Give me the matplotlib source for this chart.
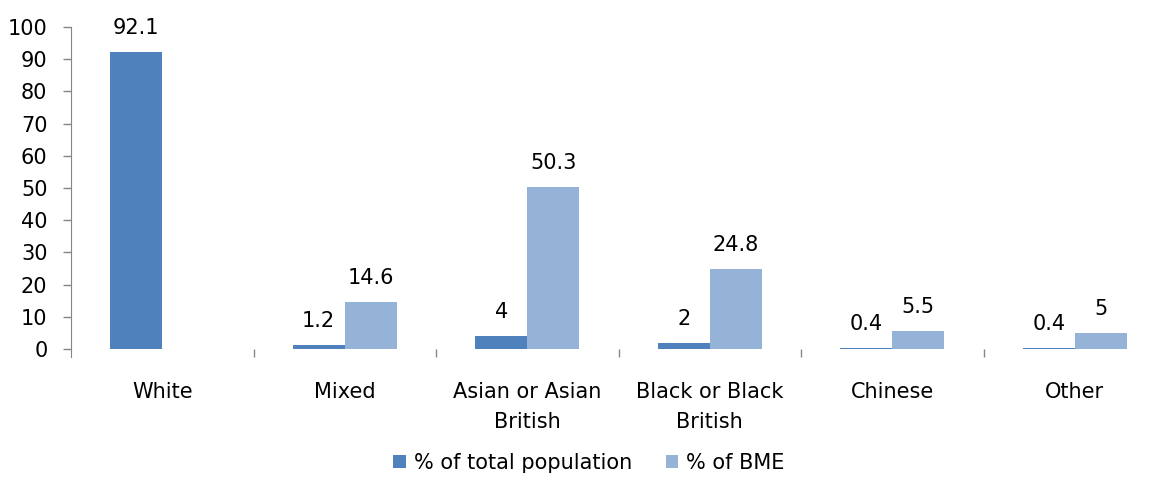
import numpy as np
import matplotlib
matplotlib.use("Agg")
import matplotlib.pyplot as plt
from matplotlib.ticker import FixedLocator

categories = ["White", "Mixed", "Asian or Asian\nBritish", "Black or Black\nBritish", "Chinese", "Other"]
pct_total = [92.1, 1.2, 4, 2, 0.4, 0.4]
pct_bme = [None, 14.6, 50.3, 24.8, 5.5, 5]
series_names = ["% of total population", "% of BME"]

dark = "#4F81BD"
light = "#95B3D7"
grey = "#868686"

plt.rcParams["font.family"] = "DejaVu Sans"
plt.rcParams["font.size"] = 15

fig = plt.figure(figsize=(11.55, 5.01), dpi=100)
ax = fig.add_axes([71 / 1155, 144 / 501, (1166 - 71) / 1155, 330 / 501])

ind = np.arange(len(categories))
width = 0.285

bme_vals = [np.nan if v is None else v for v in pct_bme]
rects1 = ax.bar(ind - width / 2, pct_total, width, color=dark, label=series_names[0])
rects2 = ax.bar(ind + width / 2, bme_vals, width, color=light, label=series_names[1])

def autolabel(rects, values):
    for rect, v in zip(rects, values):
        if v is None:
            continue
        ax.annotate("%g" % v, (rect.get_x() + rect.get_width() / 2, v),
                    xytext=(0, 13), textcoords="offset points",
                    ha="center", va="baseline", fontsize=15)

autolabel(rects1, pct_total)
autolabel(rects2, pct_bme)

ax.set_xlim(-0.5, len(categories) - 0.5)
ax.set_ylim(-2.48, 100)
ax.set_yticks(np.arange(0, 101, 10))

ax.set_xticks(ind)
ax.set_xticklabels(categories, linespacing=1.65)
ax.xaxis.set_minor_locator(FixedLocator(ind[:-1] + 0.5))
ax.tick_params(axis="x", which="major", length=0, pad=18)
ax.tick_params(axis="x", which="minor", direction="in", length=6, width=1, color=grey)
ax.tick_params(axis="y", length=6, width=1, color=grey, pad=11)

for side in ["top", "right", "bottom"]:
    ax.spines[side].set_visible(False)
ax.spines["left"].set_color(grey)

fig.legend(handles=[rects1, rects2], labels=series_names, loc="center",
           bbox_to_anchor=(589 / 1155, 1 - 463 / 501), ncol=2, frameon=False,
           handlelength=0.6, handleheight=0.6, handletextpad=0.4,
           columnspacing=1.6, fontsize=15)

fig.savefig("out.png", dpi=100)
